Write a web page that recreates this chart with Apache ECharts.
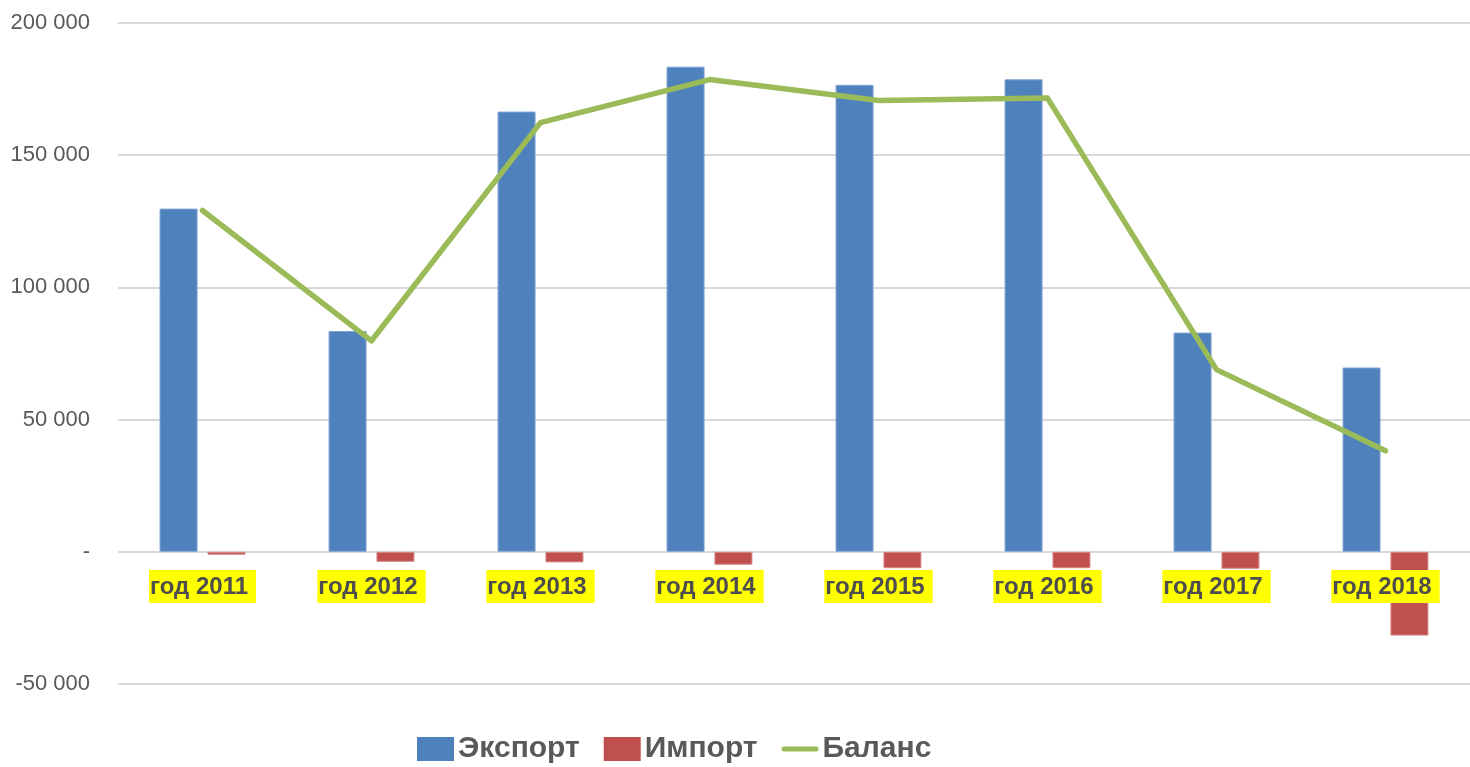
<!DOCTYPE html>
<html>
<head>
<meta charset="utf-8">
<script src="https://cdn.jsdelivr.net/npm/echarts@6/dist/echarts.min.js"></script>
<style>
html,body{margin:0;padding:0;background:#fff;}
#chart{width:1470px;height:767px;}
</style>
</head>
<body>
<div id="chart"></div>
<script>
const categories = ['год 2011','год 2012','год 2013','год 2014','год 2015','год 2016','год 2017','год 2018'];
const exportValues = [129800, 83500, 166500, 183500, 176600, 178700, 82900, 69700];
const importValues = [-1100, -3800, -4000, -4900, -6200, -6200, -6400, -31700];
const balanceValues = [129100, 79800, 162300, 178600, 170700, 171600, 68900, 38200];
const seriesNames = ['Экспорт', 'Импорт', 'Баланс'];

const chart = echarts.init(document.getElementById('chart'));
const fmt = v => v === 0 ? '-' : (v < 0 ? '-' : '') + Math.abs(v).toString().replace(/\B(?=(\d{3})+(?!\d))/g, ' ');
chart.setOption({
  animation: false,
  grid: { left: 118, top: 23, width: 1365, bottom: 83, containLabel: false },
  legend: {
    left: 417, top: 734, padding: 0,
    itemWidth: 37, itemHeight: 24, itemGap: 24,
    itemStyle: { borderWidth: 0 },
    textStyle: { fontFamily: 'Liberation Sans, sans-serif', fontWeight: 'bold', fontSize: 30, color: '#595959', padding: [0, 0, 0, -1] },
    data: [
      { name: seriesNames[0], icon: 'rect' },
      { name: seriesNames[1], icon: 'rect' },
      { name: seriesNames[2], icon: 'path://M2.5,0H34.5A2.5,2.5 0 0 1 34.5,5H2.5A2.5,2.5 0 0 1 2.5,0Z' }
    ]
  },
  xAxis: {
    type: 'category',
    data: categories,
    position: 'bottom',
    offset: -132,
    z: 10,
    axisLine: { onZero: false, show: false },
    axisTick: { show: false },
    axisLabel: {
      margin: 18,
      fontFamily: 'Liberation Sans, sans-serif',
      fontWeight: 'bold', fontSize: 24, lineHeight: 26, color: '#4d4d4d',
      backgroundColor: '#ffff00', padding: [4, 8, 3, 1]
    }
  },
  yAxis: {
    type: 'value', min: -50000, max: 200000, interval: 50000,
    axisLine: { show: false }, axisTick: { show: false },
    splitLine: { lineStyle: { color: '#d9d9d9', width: 2 } },
    axisLabel: { formatter: fmt, margin: 28, fontFamily: 'Liberation Sans, sans-serif', fontSize: 22, color: '#595959' }
  },
  series: [
    { name: seriesNames[0], type: 'bar', data: exportValues, barWidth: 38, barGap: '26%',
      itemStyle: { color: '#4f81bd', borderColor: '#7ea3d2', borderWidth: 1 } },
    { name: seriesNames[1], type: 'bar', data: importValues, barWidth: 38, barGap: '26%',
      itemStyle: { color: '#c0504d', borderColor: '#d58a88', borderWidth: 1 } },
    { name: seriesNames[2], type: 'line', data: balanceValues, symbol: 'none', showSymbol: false,
      lineStyle: { color: '#9bbb59', width: 5.5, cap: 'round', join: 'round' }, itemStyle: { color: '#9bbb59' } }
  ]
});
</script>
</body>
</html>
